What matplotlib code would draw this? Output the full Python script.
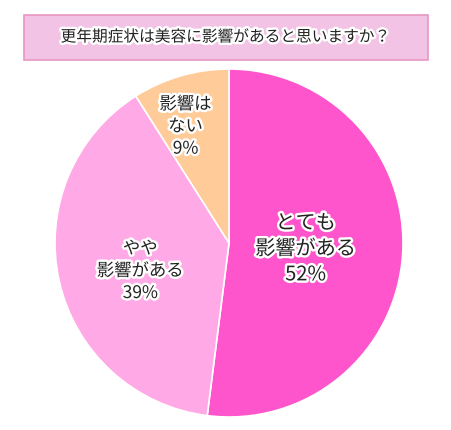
import matplotlib
matplotlib.use("Agg")
import matplotlib.pyplot as plt
import matplotlib.patheffects as pe
from matplotlib.patches import Rectangle

plt.rcParams['font.family'] = ['Noto Sans CJK JP', 'DejaVu Sans']

title = "更年期症状は美容に影響があると思いますか？"
labels = ["とても\n影響がある", "やや\n影響がある", "影響は\nない"]
values = [52, 39, 9]
colors = ["#FF55CC", "#FFAAE6", "#FFCC99"]
label_sizes = [14.5, 12.5, 12.5]
label_pos = [(0.44, -0.035), (-0.51, -0.16), (-0.25, 0.67)]

W, H = 452, 431
fig = plt.figure(figsize=(W/100, H/100), dpi=100)
fig.patch.set_facecolor("white")

# title box
fig.patches.append(Rectangle((24/W, 1-61/H), (428-24)/W, (61-16)/H,
                             transform=fig.transFigure, facecolor="#F2C3E4",
                             edgecolor="#E996C2", linewidth=1.2))
stroke = [pe.withStroke(linewidth=3.5, foreground="white")]
fig.text(226/W, 1-38/H, title, ha="center", va="center", fontsize=11.3,
         color="#222222", path_effects=stroke)

cx, cy, r = 229, 244, 174
ax = fig.add_axes([(cx-r)/W, (H-cy-r)/H, 2*r/W, 2*r/H])
wedges, _ = ax.pie(values, colors=colors, startangle=90, counterclock=False,
                   radius=1, wedgeprops=dict(edgecolor="white", linewidth=1.2))
ax.set_xlim(-1, 1)
ax.set_ylim(-1, 1)
ax.set_aspect("auto")
ax.axis("off")

for lab, v, (x, y), fs in zip(labels, values, label_pos, label_sizes):
    ax.text(x, y, f"{lab}\n{v}%", ha="center", va="center", fontsize=fs,
            color="#222222", linespacing=1.3, path_effects=stroke)

fig.savefig("out.png", dpi=100)
